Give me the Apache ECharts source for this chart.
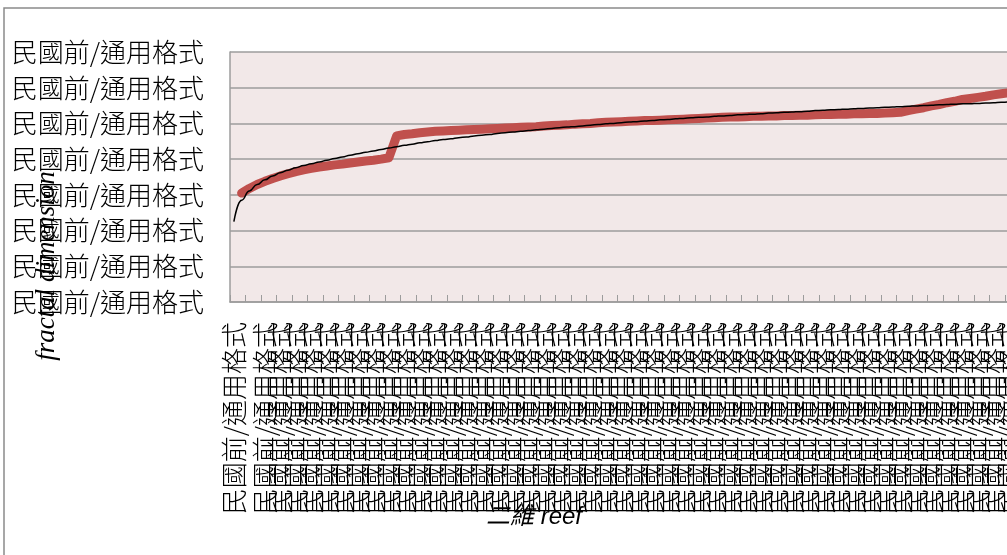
<!DOCTYPE html>
<html>
<head>
<meta charset="utf-8">
<script src="https://cdn.jsdelivr.net/npm/echarts@6/dist/echarts.min.js"></script>
<style>
  html, body { margin: 0; padding: 0; background: #ffffff; }
  #chart { width: 1007px; height: 555px; }
</style>
</head>
<body>
<div id="chart"></div>
<script>
// Tick label text (the number format shows the same string on every tick)
const xTickText = '民國前/通用格式';
const yTickLabels = ['民國前/通用格式', '民國前/通用格式', '民國前/通用格式', '民國前/通用格式',
                     '民國前/通用格式', '民國前/通用格式', '民國前/通用格式', '民國前/通用格式'];

// Measured fractal dimension per reef sample
const fractalDimension = [
  null, 3.05, 3.18, 3.29, 3.38, 3.46, 3.53, 3.59, 3.65, 3.70,
  3.74, 3.78, 3.81, 3.84, 3.86, 3.89, 3.92, 3.95, 3.97, 4.00,
  4.04, 4.65, 4.69, 4.71, 4.74, 4.76, 4.78, 4.79, 4.80, 4.81,
  4.82, 4.83, 4.84, 4.85, 4.86, 4.87, 4.88, 4.89, 4.90, 4.91,
  4.93, 4.94, 4.95, 4.96, 4.98, 4.99, 5.00, 5.02, 5.03, 5.04,
  5.05, 5.06, 5.07, 5.08, 5.08, 5.09, 5.10, 5.11, 5.12, 5.13,
  5.14, 5.15, 5.16, 5.17, 5.18, 5.18, 5.19, 5.20, 5.20, 5.21,
  5.21, 5.22, 5.22, 5.23, 5.23, 5.24, 5.25, 5.25, 5.26, 5.26,
  5.27, 5.27, 5.28, 5.28, 5.29, 5.30, 5.31, 5.36, 5.40, 5.44,
  5.49, 5.53, 5.58, 5.62, 5.67, 5.70, 5.73, 5.76, 5.80, 5.83,
  5.86, 5.89, 5.92, 5.95
];

// Logarithmic trend line through the measurements
const trendLine = [
  2.25, 2.85, 3.11, 3.29, 3.42, 3.53, 3.62, 3.69, 3.76, 3.82,
  3.87, 3.92, 3.97, 4.02, 4.06, 4.11, 4.15, 4.19, 4.23, 4.27,
  4.31, 4.35, 4.39, 4.42, 4.46, 4.49, 4.52, 4.55, 4.57, 4.60,
  4.62, 4.65, 4.67, 4.69, 4.72, 4.74, 4.76, 4.78, 4.80, 4.82,
  4.84, 4.86, 4.88, 4.90, 4.91, 4.93, 4.95, 4.97, 4.99, 5.00,
  5.02, 5.04, 5.05, 5.07, 5.08, 5.10, 5.11, 5.13, 5.14, 5.16,
  5.17, 5.18, 5.20, 5.21, 5.22, 5.24, 5.25, 5.26, 5.27, 5.29,
  5.30, 5.31, 5.32, 5.33, 5.34, 5.36, 5.37, 5.38, 5.39, 5.40,
  5.41, 5.42, 5.43, 5.44, 5.45, 5.46, 5.47, 5.48, 5.49, 5.50,
  5.51, 5.52, 5.53, 5.54, 5.55, 5.55, 5.56, 5.57, 5.58, 5.59,
  5.60, 5.61, 5.62, 5.62
];

const categories = fractalDimension.map(() => xTickText);

const CJK = '"Noto Sans CJK TC", "Noto Sans CJK SC", sans-serif';
const gridColor = '#9c9c9c';

const chart = echarts.init(document.getElementById('chart'), null, { renderer: 'canvas' });

chart.setOption({
  animation: false,
  backgroundColor: '#ffffff',
  grid: {
    left: 230, top: 52, width: 806, height: 250,
    containLabel: false,
    outerBoundsMode: 'none',
    show: true, backgroundColor: '#f2e8e8', borderWidth: 0
  },
  xAxis: {
    type: 'category',
    data: categories,
    boundaryGap: true,
    axisLine: { show: true, lineStyle: { color: gridColor, width: 1.5 } },
    axisTick: { show: true, inside: true, length: 7, interval: 1, lineStyle: { color: gridColor, width: 1 } },
    axisLabel: {
      interval: 1, rotate: 90, margin: 20,
      showMinLabel: true, showMaxLabel: false, hideOverlap: false,
      fontFamily: CJK, fontSize: 26, fontWeight: 300, color: '#000000'
    },
    splitLine: { show: false }
  },
  yAxis: {
    type: 'value',
    min: 0, max: 7, interval: 1,
    axisLine: { show: true, lineStyle: { color: gridColor, width: 1.5 } },
    axisTick: { show: false },
    axisLabel: {
      margin: 26, fontFamily: CJK, fontSize: 26, fontWeight: 300, color: '#000000',
      formatter: (v) => yTickLabels[Math.round(v)]
    },
    splitLine: { show: true, lineStyle: { color: gridColor, width: 1.5 } }
  },
  series: [
    {
      name: 'fractal dimension',
      type: 'line',
      data: fractalDimension,
      showSymbol: false,
      connectNulls: false,
      lineStyle: { color: '#c0504d', width: 9, cap: 'round', join: 'round' },
      z: 2
    },
    {
      name: 'trend',
      type: 'line',
      data: trendLine,
      showSymbol: false,
      smooth: true,
      smoothMonotone: 'x',
      lineStyle: { color: '#000000', width: 1.5 },
      z: 3
    }
  ],
  graphic: [
    {
      type: 'polyline',
      shape: { points: [[4, 560], [4, 8], [1012, 8]] },
      style: { stroke: '#8a8a8a', lineWidth: 1.5, fill: null },
      silent: true
    },
    {
      type: 'text',
      x: 47, y: 266,
      rotation: Math.PI / 2,
      style: {
        text: 'fractal dimension',
        font: 'italic 27px "Liberation Serif", "DejaVu Serif", serif',
        fill: '#000000',
        textAlign: 'center',
        textVerticalAlign: 'middle'
      },
      z: 10
    },
    {
      type: 'text',
      x: 534, y: 517,
      style: {
        text: '二維 reef',
        font: 'italic 24px "Liberation Sans", "Noto Sans CJK TC", sans-serif',
        fill: '#000000',
        textAlign: 'center',
        textVerticalAlign: 'middle'
      },
      z: 10
    }
  ]
});
</script>
</body>
</html>
